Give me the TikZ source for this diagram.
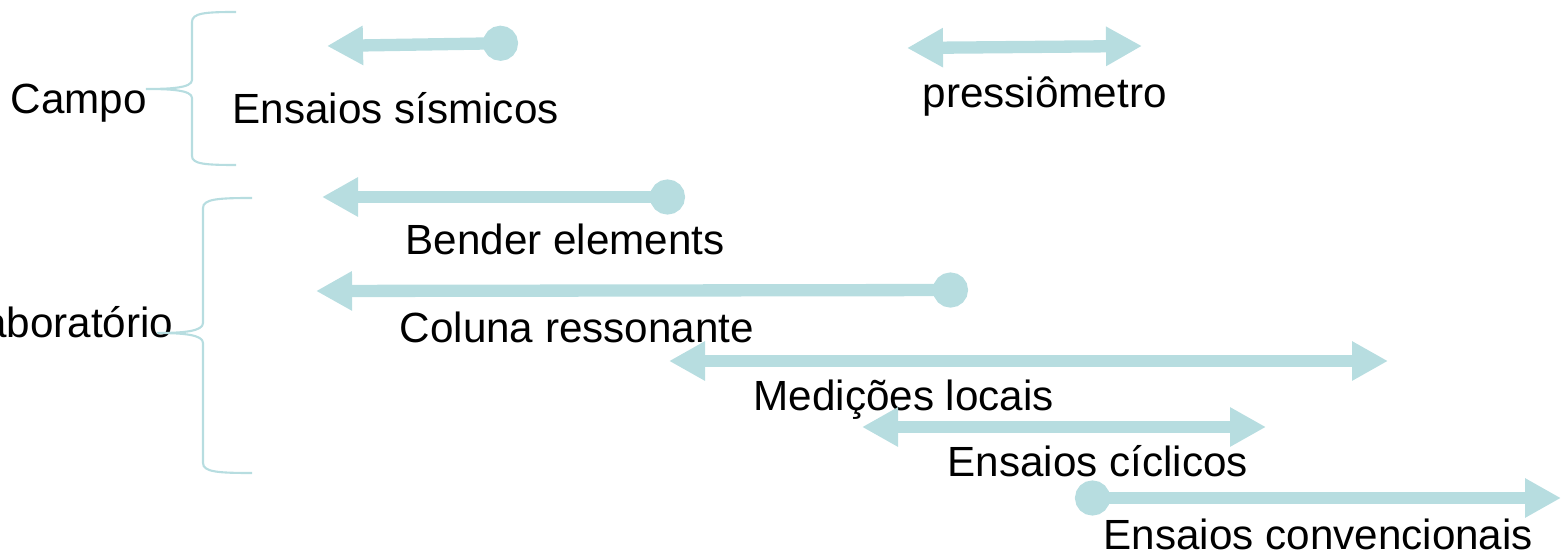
\documentclass[tikz,border=0pt]{standalone}
\usepackage{fontspec}
\setmainfont{Liberation Sans}
\usetikzlibrary{arrows.meta}
\definecolor{azulclaro}{RGB}{183,221,224}

\tikzset{
    bola/.tip = {Circle[length = 3.5mm]},
    ponta/.tip = {Triangle[length = 3.6mm, width = 3.7mm]}
}

\begin{document}
\begin{tikzpicture}[x = 0.01cm, y = -0.01cm,
    seta/.style = {azulclaro, line width = 3.5pt},
    chave/.style = {azulclaro, line width = 0.6pt},
    rotulo/.style = {anchor = base west, inner sep = 0pt, font = \fontsize{12}{14}\selectfont}]

% The frame fixes the size of the page.
    \useasboundingbox (0, 0) rectangle (1561, 555);

% Group names and their braces.
    \node [rotulo] (campo) at (10, 114) {Campo};
    \node [rotulo, anchor = base east] (lab) at (174, 338) {Laboratório};

    \draw [chave] (236, 12) .. controls (205, 12) and (192, 13) .. (192, 22)
        -- (192, 80) .. controls (192, 88) and (170, 89) .. (146, 89)
        .. controls (170, 89) and (192, 90) .. (192, 98)
        -- (192, 156) .. controls (192, 164) and (205, 165) .. (236, 165);
    \draw [chave] (252, 198) .. controls (218, 198) and (203, 199) .. (203, 208)
        -- (203, 323) .. controls (203, 331) and (185, 333) .. (157, 333)
        .. controls (185, 333) and (203, 335) .. (203, 343)
        -- (203, 463) .. controls (203, 472) and (218, 473) .. (252, 473);

% Test names.
    \node [rotulo] (sismicos) at (232, 124) {Ensaios sísmicos};
    \node [rotulo] (pressio) at (922, 108) {pressiômetro};
    \node [rotulo] (bender) at (405, 255) {Bender elements};
    \node [rotulo] (coluna) at (399, 343) {Coluna ressonante};
    \node [rotulo] (medicoes) at (753, 410) {Medições locais};
    \node [rotulo] (ciclicos) at (947, 476) {Ensaios cíclicos};
    \node [rotulo] (convenc) at (1103, 549) {Ensaios convencionais};

% End points of the ranges.
    \coordinate (sismicos-a) at (518, 43);
    \coordinate (sismicos-b) at (327, 46);
    \coordinate (pressio-a) at (907, 48);
    \coordinate (pressio-b) at (1142, 46);
    \coordinate (bender-a) at (685, 197);
    \coordinate (bender-b) at (322, 197);
    \coordinate (coluna-a) at (968, 290);
    \coordinate (coluna-b) at (316, 291);
    \coordinate (medicoes-a) at (669, 361);
    \coordinate (medicoes-b) at (1388, 361);
    \coordinate (ciclicos-a) at (862, 427);
    \coordinate (ciclicos-b) at (1266, 427);
    \coordinate (convenc-a) at (1075, 498);
    \coordinate (convenc-b) at (1561, 498);

% The ranges.
    \draw [seta, bola-ponta] (sismicos-a) -- (sismicos-b);
    \draw [seta, ponta-ponta] (pressio-a) -- (pressio-b);
    \draw [seta, bola-ponta] (bender-a) -- (bender-b);
    \draw [seta, bola-ponta] (coluna-a) -- (coluna-b);
    \draw [seta, ponta-ponta] (medicoes-a) -- (medicoes-b);
    \draw [seta, ponta-ponta] (ciclicos-a) -- (ciclicos-b);
    \draw [seta, bola-ponta] (convenc-a) -- (convenc-b);

\end{tikzpicture}
\end{document}
